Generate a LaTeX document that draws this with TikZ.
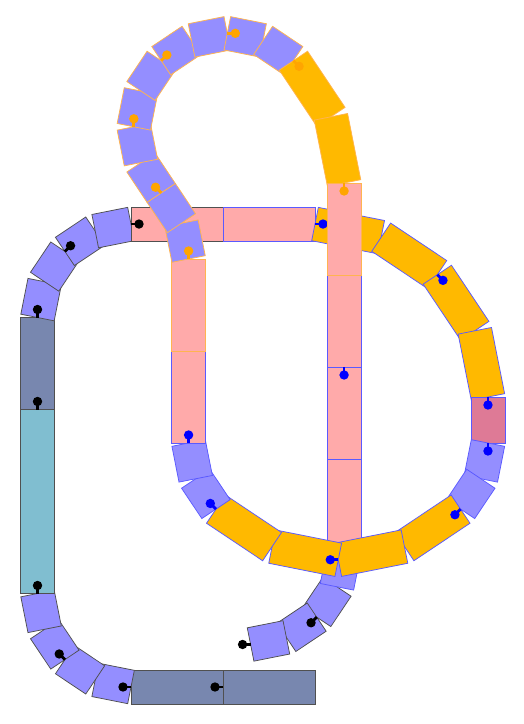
\documentclass[tikz,border=0pt]{standalone}
\pgfdeclarelayer{blackl}
\pgfdeclarelayer{bluelow}
\pgfdeclarelayer{bluehigh}
\pgfdeclarelayer{orangel}
\pgfsetlayers{blackl,bluelow,bluehigh,orangel,main}
\definecolor{fblock}{RGB}{148,142,255}
\definecolor{fdark}{RGB}{120,135,175}
\definecolor{flight}{RGB}{128,190,208}
\definecolor{fpink}{RGB}{255,170,170}
\definecolor{forange}{RGB}{255,185,0}
\definecolor{fdpink}{RGB}{222,122,150}
\definecolor{oblack}{RGB}{80,80,80}
\definecolor{oblue}{RGB}{90,90,255}
\definecolor{oorange}{RGB}{255,180,80}
\definecolor{pblack}{RGB}{0,0,0}
\definecolor{pblue}{RGB}{0,0,255}
\definecolor{porange}{RGB}{255,165,0}
\tikzset{trackpiece/.style={line width=0.75pt}}
\newcommand\TkX{315}
\newcommand\TkY{37}
\newcommand\TkH{180}
\def\TkNone{none}
\newcommand\TkPin[1]{%
  \def\TkArg{#1}%
  \ifx\TkArg\TkNone\else
    \draw[#1,line width=2.8pt] (\TkX,\TkY) -- ++(\TkH:8);
    \fill[#1] (\TkX,\TkY) ++(\TkH:8) circle (4.7);
  \fi}
\newcommand\TkPiece[5]{%
  \filldraw[trackpiece,fill=#3,draw=#4,shift={(\TkX,\TkY)},rotate=#2] (0,-17) rectangle (#1,17);
  \TkPin{#5}}
% straight: length fill draw pin layer
\newcommand\Str[5]{%
  \begin{pgfonlayer}{#5}\TkPiece{#1}{\TkH}{#2}{#3}{#4}\end{pgfonlayer}
  \pgfmathsetmacro\TkX{\TkX+#1*cos(\TkH)}%
  \pgfmathsetmacro\TkY{\TkY+#1*sin(\TkH)}}
% curve: radius sign fill draw pin layer
\newcommand\Crv[6]{%
  \pgfmathsetmacro\TkC{2*#1*sin(11.25)}%
  \pgfmathsetmacro\TkD{\TkH+(#2)*11.25}%
  \begin{pgfonlayer}{#6}\TkPiece{\TkC}{\TkD}{#3}{#4}{#5}\end{pgfonlayer}
  \pgfmathsetmacro\TkX{\TkX+\TkC*cos(\TkD)}%
  \pgfmathsetmacro\TkY{\TkY+\TkC*sin(\TkD)}%
  \pgfmathsetmacro\TkH{\TkH+(#2)*22.5}}
\begin{document}
\begin{tikzpicture}[x=1pt,y=1pt]
\useasboundingbox (0,0) rectangle (523,724);
% 1-2
\Str{92}{fdark}{oblack}{none}{blackl}
\Str{92}{fdark}{oblack}{pblack}{blackl}
% 3-6
\Crv{93.5}{-1}{fblock}{oblack}{pblack}{blackl}
\Crv{93.5}{-1}{fblock}{oblack}{none}{blackl}
\Crv{93.5}{-1}{fblock}{oblack}{pblack}{blackl}
\Crv{93.5}{-1}{fblock}{oblack}{none}{blackl}
% 7-8
\Str{184}{flight}{oblack}{pblack}{blackl}
\Str{92}{fdark}{oblack}{pblack}{blackl}
% 9-12
\Crv{93.5}{-1}{fblock}{oblack}{pblack}{blackl}
\Crv{93.5}{-1}{fblock}{oblack}{none}{blackl}
\Crv{93.5}{-1}{fblock}{oblack}{pblack}{blackl}
\Crv{93.5}{-1}{fblock}{oblack}{none}{blackl}
% 13-14
\Str{92}{fpink}{oblack}{pblack}{blackl}
\Str{92}{fpink}{oblue}{none}{bluehigh}
% 15-18
\Crv{173}{-1}{forange}{oblue}{pblue}{bluehigh}
\Crv{173}{-1}{forange}{oblue}{none}{bluehigh}
\Crv{173}{-1}{forange}{oblue}{pblue}{bluehigh}
\Crv{173}{-1}{forange}{oblue}{none}{bluehigh}
% 19
\Str{46}{fdpink}{oblue}{pblue}{bluehigh}
% 20-21
\Crv{93.5}{-1}{fblock}{oblue}{pblue}{bluehigh}
\Crv{93.5}{-1}{fblock}{oblue}{none}{bluehigh}
% 22-25
\Crv{173}{-1}{forange}{oblue}{pblue}{bluehigh}
\Crv{173}{-1}{forange}{oblue}{none}{bluehigh}
\Crv{173}{-1}{forange}{oblue}{pblue}{bluehigh}
\Crv{173}{-1}{forange}{oblue}{none}{bluehigh}
% 26-27
\Crv{93.5}{-1}{fblock}{oblue}{pblue}{bluehigh}
\Crv{93.5}{-1}{fblock}{oblue}{none}{bluehigh}
% 28-29
\Str{92}{fpink}{oblue}{pblue}{bluehigh}
\Str{92}{fpink}{oorange}{none}{orangel}
% 30-31 (left turn)
\Crv{93.5}{1}{fblock}{oorange}{porange}{orangel}
\Crv{93.5}{1}{fblock}{oorange}{none}{orangel}
% 32-39
\Crv{93.5}{-1}{fblock}{oorange}{porange}{orangel}
\Crv{93.5}{-1}{fblock}{oorange}{none}{orangel}
\Crv{93.5}{-1}{fblock}{oorange}{porange}{orangel}
\Crv{93.5}{-1}{fblock}{oorange}{none}{orangel}
\Crv{93.5}{-1}{fblock}{oorange}{porange}{orangel}
\Crv{93.5}{-1}{fblock}{oorange}{none}{orangel}
\Crv{93.5}{-1}{fblock}{oorange}{porange}{orangel}
\Crv{93.5}{-1}{fblock}{oorange}{none}{orangel}
% 40-41
\Crv{173}{-1}{forange}{oorange}{porange}{orangel}
\Crv{173}{-1}{forange}{oorange}{none}{orangel}
% 42-45
\Str{92}{fpink}{oorange}{porange}{orangel}
\Str{92}{fpink}{oblue}{none}{bluelow}
\Str{92}{fpink}{oblue}{pblue}{bluelow}
\Str{92}{fpink}{oblue}{none}{bluelow}
% 46-49
\Crv{93.5}{-1}{fblock}{oblue}{none}{bluelow}
\Crv{93.5}{-1}{fblock}{oblack}{none}{blackl}
\Crv{93.5}{-1}{fblock}{oblack}{pblack}{blackl}
\Crv{93.5}{-1}{fblock}{oblack}{none}{blackl}
% free end pin
\TkPin{pblack}
\end{tikzpicture}
\end{document}
